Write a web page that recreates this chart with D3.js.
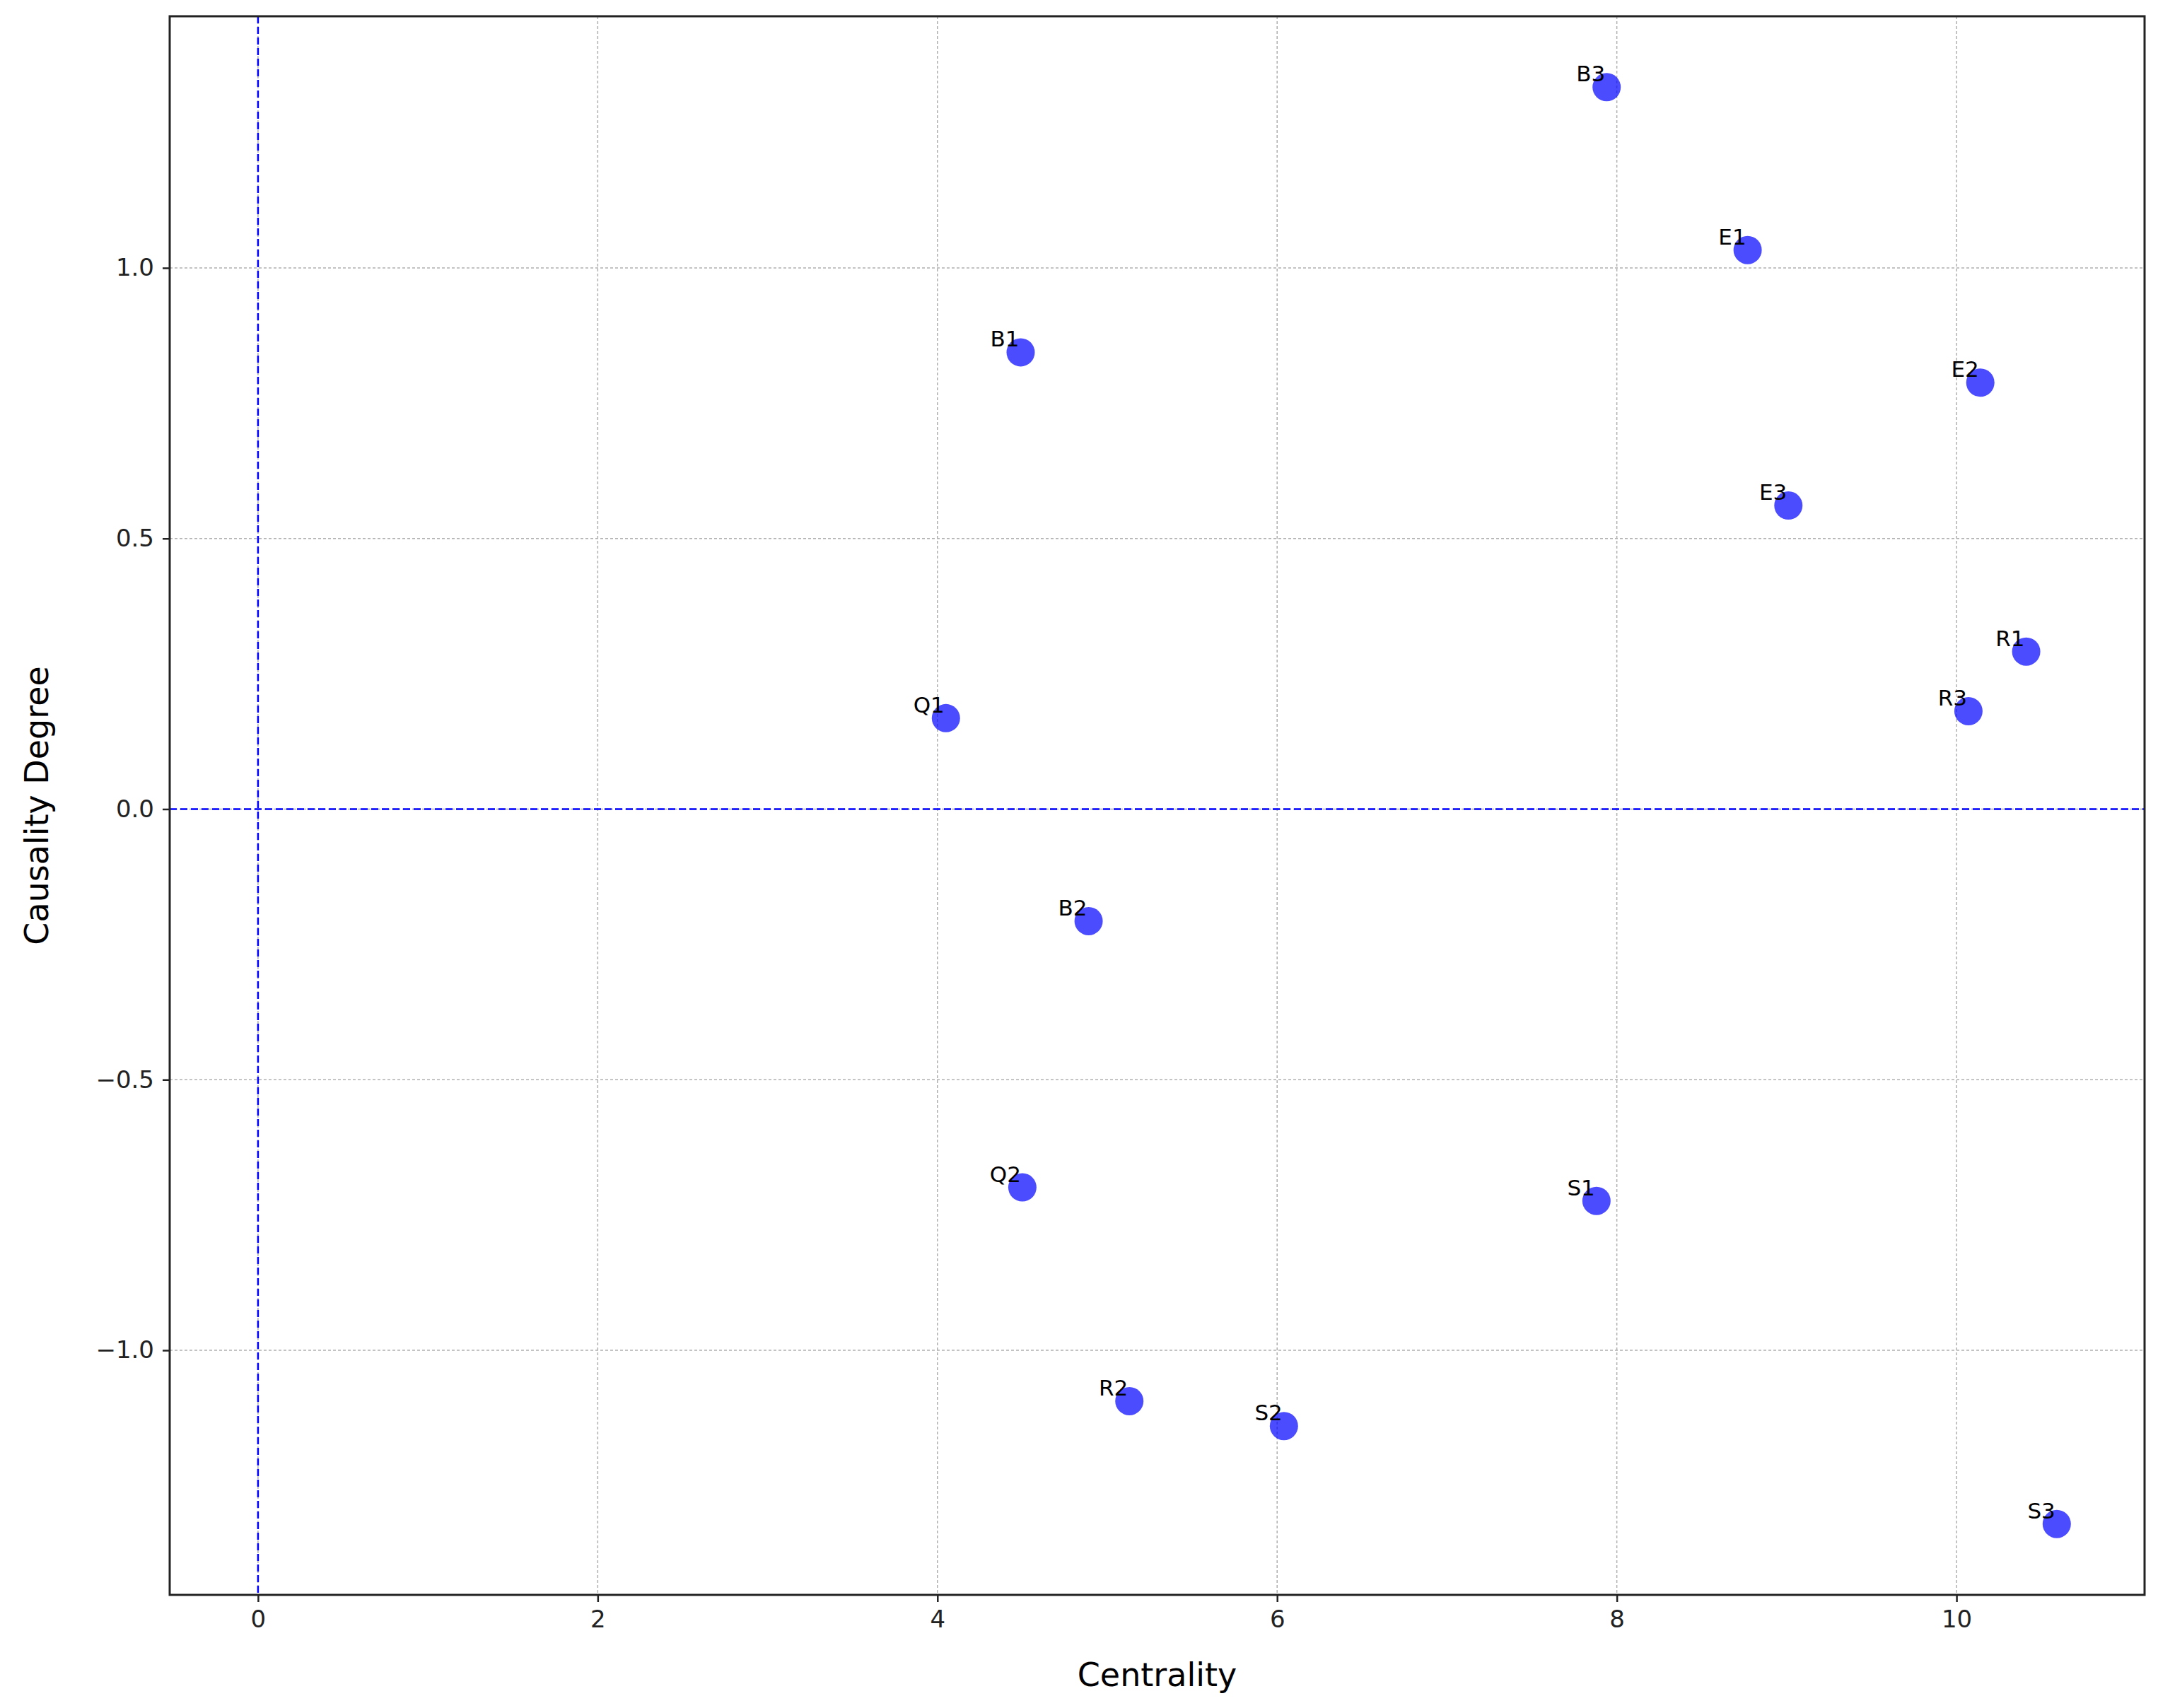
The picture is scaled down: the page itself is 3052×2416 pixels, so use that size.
<!DOCTYPE html><html><head><meta charset="utf-8"><script src="https://cdn.jsdelivr.net/npm/d3@7"></script>
<style>body{margin:0;background:#fff}</style></head><body><svg id="c" width="3052" height="2416"></svg>
<script>
const labels=["B3","E1","B1","E2","E3","R1","R3","Q1","B2","Q2","S1","R2","S2","S3"];
const centrality=[7.94,8.77,4.49,10.14,9.01,10.41,10.07,4.05,4.89,4.50,7.88,5.13,6.04,10.59];
const causality=[1.334,1.033,0.844,0.788,0.561,0.291,0.181,0.168,-0.207,-0.699,-0.724,-1.094,-1.140,-1.321];
const xTicks=[0,2,4,6,8,10];
const yTicks=[-1.0,-0.5,0.0,0.5,1.0];
const svg=d3.select("#c");
const L=240,R=3033,T=23,B=2256;
const x=d3.scaleLinear().domain([-0.52,11.107]).range([L,R]);
const y=d3.scaleLinear().domain([-1.452,1.465]).range([B,T]);
const font="DejaVu Sans, sans-serif";
const g=svg.append("g");
g.selectAll(".gx").data(xTicks).join("line").attr("x1",d=>x(d)).attr("x2",d=>x(d)).attr("y1",T).attr("y2",B).attr("stroke","#b0b0b0").attr("stroke-width",1.5).attr("stroke-dasharray","4,3");
g.selectAll(".gy").data(yTicks).join("line").attr("y1",d=>y(d)).attr("y2",d=>y(d)).attr("x1",L).attr("x2",R).attr("stroke","#b0b0b0").attr("stroke-width",1.5).attr("stroke-dasharray","4,3");
g.append("line").attr("x1",x(0)).attr("x2",x(0)).attr("y1",T).attr("y2",B).attr("stroke","blue").attr("stroke-width",2.5).attr("stroke-dasharray","10,5");
g.append("line").attr("y1",y(0)).attr("y2",y(0)).attr("x1",L).attr("x2",R).attr("stroke","blue").attr("stroke-width",2.5).attr("stroke-dasharray","10,5");
const idx=d3.range(labels.length);
g.selectAll("circle").data(idx).join("circle").attr("cx",i=>x(centrality[i])).attr("cy",i=>y(causality[i])).attr("r",20).attr("fill","blue").attr("fill-opacity",0.7);
g.selectAll(".lab").data(idx).join("text").attr("x",i=>x(centrality[i])-2).attr("y",i=>y(causality[i])-8).attr("text-anchor","end").attr("font-family",font).attr("font-size",31).text(i=>labels[i]);
const ax=d3.axisBottom(x).tickValues(xTicks).tickFormat(d3.format("d")).tickSize(10).tickPadding(12);
const ay=d3.axisLeft(y).tickValues(yTicks).tickFormat(d=>d3.format(".1f")(d).replace("-","\u2212")).tickSize(10).tickPadding(12);
const gx=svg.append("g").attr("transform",`translate(0,${B})`).call(ax);
const gy=svg.append("g").attr("transform",`translate(${L},0)`).call(ay);
[gx,gy].forEach(a=>{a.select(".domain").remove();a.selectAll("line").attr("stroke","#222").attr("stroke-width",2.5);a.selectAll("text").attr("font-family",font).attr("font-size",34).attr("fill","#222");});
svg.append("rect").attr("x",L).attr("y",T).attr("width",R-L).attr("height",B-T).attr("fill","none").attr("stroke","#222").attr("stroke-width",3);
svg.append("text").attr("x",(L+R)/2).attr("y",2385).attr("text-anchor","middle").attr("font-family",font).attr("font-size",46).text("Centrality");
svg.append("text").attr("transform",`translate(68,${(T+B)/2}) rotate(-90)`).attr("text-anchor","middle").attr("font-family",font).attr("font-size",46).text("Causality Degree");
</script></body></html>
